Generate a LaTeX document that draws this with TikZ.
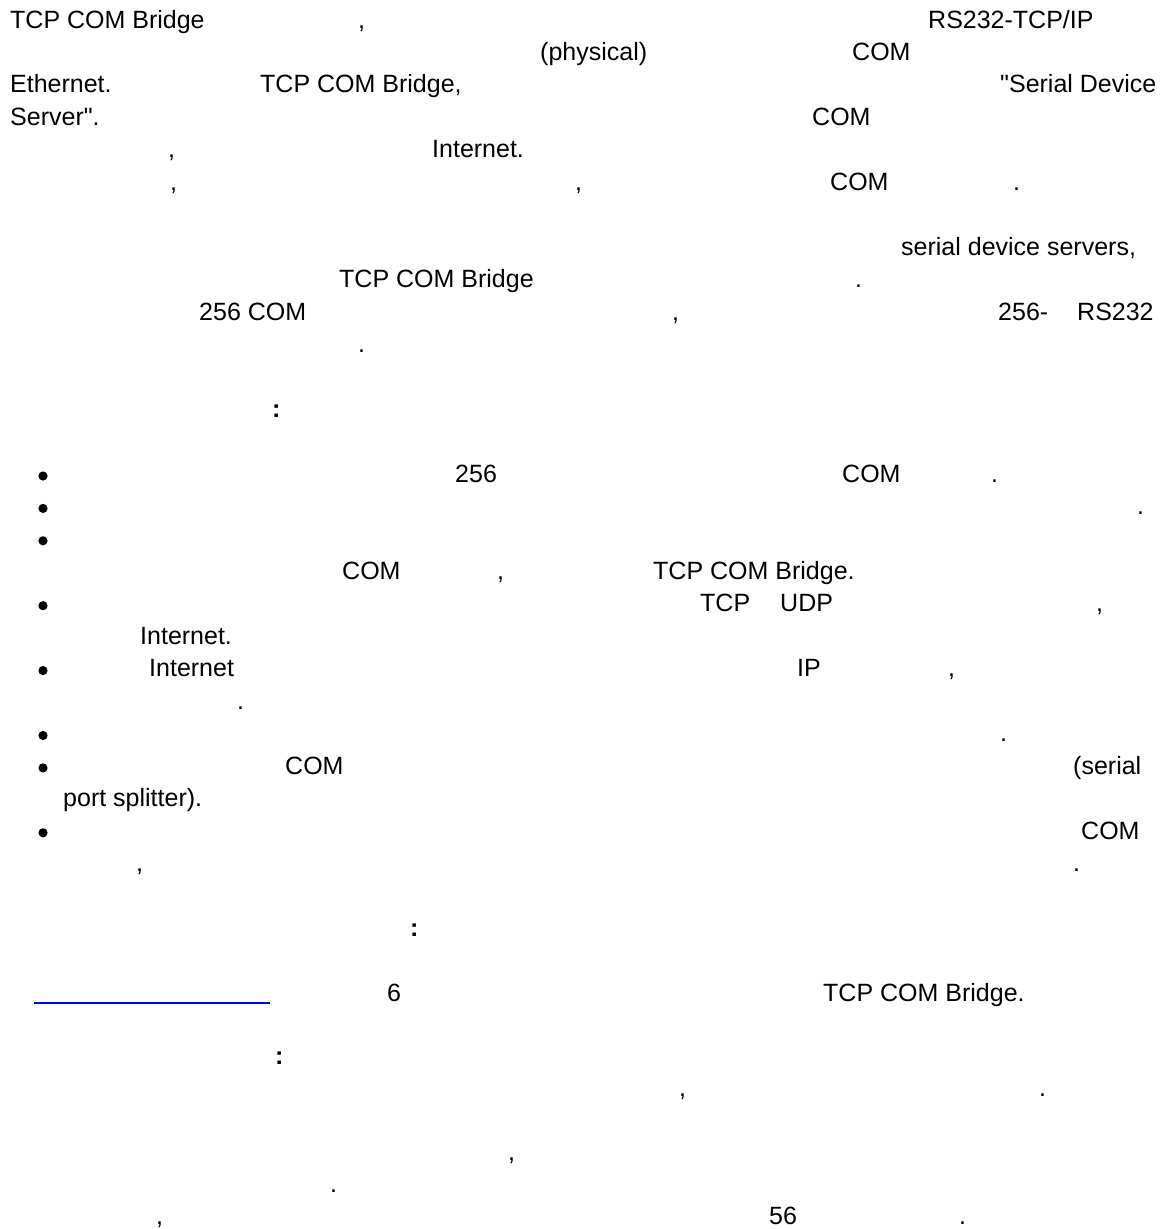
\documentclass[tikz,border=0pt]{standalone}
\usepackage{fontspec}
\setmainfont{Liberation Sans}[Ligatures=TeXOff]
\usepackage{xcolor}
\definecolor{linkblue}{RGB}{0,0,255}

\begin{document}
\begin{tikzpicture}[x=1pt, y=-1pt,
	txt/.style={anchor=base west, inner sep=0pt, font=\fontsize{25}{30}\selectfont},
	colon/.style={txt, font=\fontsize{25}{30}\selectfont\bfseries}]
			% Page
			\path[fill=white] (0,0) rectangle (1166,1229);
			\useasboundingbox (0,0) rectangle (1166,1229);
			% first paragraph
			\node[txt] (p1a) at (10,28) {TCP COM Bridge};
			\node[txt] (p1b) at (358,28) {,};
			\node[txt] (p1c) at (928,28) {RS232-TCP/IP};
			\node[txt] (p1d) at (540,60.4) {(physical)};
			\node[txt] (p1e) at (852,60.4) {COM};
			\node[txt] (p1f) at (10,92.9) {Ethernet.};
			\node[txt] (p1g) at (260,92.9) {TCP COM Bridge,};
			\node[txt] (p1h) at (1000,92.9) {"Serial Device};
			\node[txt] (p1i) at (10,125.3) {Server".};
			\node[txt] (p1j) at (812,125.3) {COM};
			\node[txt] (p1k) at (168,157.8) {,};
			\node[txt] (p1l) at (432,157.8) {Internet.};
			\node[txt] (p1m) at (170,190.2) {,};
			\node[txt] (p1n) at (575,190.2) {,};
			\node[txt] (p1o) at (830,190.2) {COM};
			\node[txt] (p1p) at (1013,190.2) {.};
			% second paragraph
			\node[txt] (p2a) at (901,255.1) {serial device servers,};
			\node[txt] (p2b) at (339,287.5) {TCP COM Bridge};
			\node[txt] (p2c) at (855,287.5) {.};
			\node[txt] (p2d) at (199,320) {256 COM};
			\node[txt] (p2e) at (672,320) {,};
			\node[txt] (p2f) at (998,320) {256-};
			\node[txt] (p2g) at (1077,320) {RS232};
			\node[txt] (p2h) at (358,352.4) {.};
			% heading
			\node[colon] (h1) at (272,417.3) {:};
			% bullets
			\fill (43,476) circle (4.6);
			\fill (43,508.4) circle (4.6);
			\fill (43,540.8) circle (4.6);
			\fill (43,605.7) circle (4.6);
			\fill (43,670.6) circle (4.6);
			\fill (43,735.5) circle (4.6);
			\fill (43,767.9) circle (4.6);
			\fill (43,832.8) circle (4.6);
			% list items
			\node[txt] (b1a) at (455,482.2) {256};
			\node[txt] (b1b) at (842,482.2) {COM};
			\node[txt] (b1c) at (991,482.2) {.};
			\node[txt] (b2a) at (1137,514.6) {.};
			\node[txt] (b3a) at (342,579.5) {COM};
			\node[txt] (b3b) at (497,579.5) {,};
			\node[txt] (b3c) at (653,579.5) {TCP COM Bridge.};
			\node[txt] (b4a) at (700,611.9) {TCP};
			\node[txt] (b4b) at (780,611.9) {UDP};
			\node[txt] (b4c) at (1096,611.9) {,};
			\node[txt] (b4d) at (140,644.4) {Internet.};
			\node[txt] (b5a) at (149,676.8) {Internet};
			\node[txt] (b5b) at (797,676.8) {IP};
			\node[txt] (b5c) at (948,676.8) {,};
			\node[txt] (b5d) at (237,709.2) {.};
			\node[txt] (b6a) at (1000,741.7) {.};
			\node[txt] (b7a) at (285,774.1) {COM};
			\node[txt] (b7b) at (1073,774.1) {(serial};
			\node[txt] (b7c) at (63,806.6) {port splitter).};
			\node[txt] (b8a) at (1081,839) {COM};
			\node[txt] (b8b) at (136,871.4) {,};
			\node[txt] (b8c) at (1073,871.4) {.};
			% heading
			\node[colon] (h2) at (410,936.3) {:};
			% link line
			\draw[linkblue, line width=2pt] (34,1003) -- (270,1003);
			\node[txt] (k1) at (387,1001.2) {6};
			\node[txt] (k2) at (823,1001.2) {TCP COM Bridge.};
			% heading
			\node[colon] (h3) at (275,1064) {:};
			% last paragraph
			\node[txt] (q1) at (679,1096) {,};
			\node[txt] (q2) at (1039,1096) {.};
			\node[txt] (q3) at (508,1160) {,};
			\node[txt] (q4) at (330,1192) {.};
			\node[txt] (q5) at (156,1224) {,};
			\node[txt] (q6) at (769,1224) {56};
			\node[txt] (q7) at (959,1224) {.};
		\end{tikzpicture}
\end{document}
